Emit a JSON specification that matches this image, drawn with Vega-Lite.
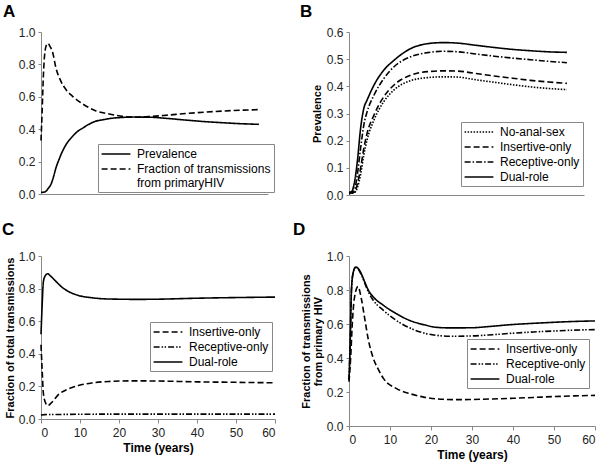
{
  "$schema": "https://vega.github.io/schema/vega-lite/v6.json",
  "background": "white",
  "padding": {"left": 2, "top": 3, "right": 2, "bottom": 3},
  "columns": 2,
  "align": "each",
  "spacing": {"column": 14, "row": 20},
  "resolve": {"scale": {"strokeDash": "independent"}, "legend": {"strokeDash": "independent"}},
  "datasets": {
    "A": [
      {"t": 0, "v": 0.01, "s": "Prevalence"}, {"t": 1, "v": 0.012, "s": "Prevalence"}, {"t": 1.5, "v": 0.02, "s": "Prevalence"}, {"t": 2, "v": 0.035, "s": "Prevalence"}, {"t": 2.75, "v": 0.06, "s": "Prevalence"}, {"t": 3.5, "v": 0.11, "s": "Prevalence"}, {"t": 4.1, "v": 0.16, "s": "Prevalence"}, {"t": 5, "v": 0.215, "s": "Prevalence"}, {"t": 5.5, "v": 0.243, "s": "Prevalence"}, {"t": 6.9, "v": 0.305, "s": "Prevalence"}, {"t": 8.7, "v": 0.356, "s": "Prevalence"}, {"t": 10, "v": 0.385, "s": "Prevalence"}, {"t": 11.5, "v": 0.407, "s": "Prevalence"}, {"t": 13, "v": 0.428, "s": "Prevalence"}, {"t": 15, "v": 0.449, "s": "Prevalence"}, {"t": 17, "v": 0.458, "s": "Prevalence"}, {"t": 19, "v": 0.466, "s": "Prevalence"}, {"t": 22, "v": 0.472, "s": "Prevalence"}, {"t": 26, "v": 0.475, "s": "Prevalence"}, {"t": 30, "v": 0.474, "s": "Prevalence"}, {"t": 35, "v": 0.466, "s": "Prevalence"}, {"t": 40, "v": 0.456, "s": "Prevalence"}, {"t": 45, "v": 0.447, "s": "Prevalence"}, {"t": 50, "v": 0.44, "s": "Prevalence"}, {"t": 55, "v": 0.434, "s": "Prevalence"}, {"t": 60, "v": 0.43, "s": "Prevalence"},
      {"t": 0, "v": 0.33, "s": "Fraction"}, {"t": 0.3, "v": 0.5, "s": "Fraction"}, {"t": 0.6, "v": 0.7, "s": "Fraction"}, {"t": 1, "v": 0.86, "s": "Fraction"}, {"t": 1.5, "v": 0.92, "s": "Fraction"}, {"t": 1.9, "v": 0.93, "s": "Fraction"}, {"t": 2.5, "v": 0.91, "s": "Fraction"}, {"t": 3.2, "v": 0.875, "s": "Fraction"}, {"t": 4.1, "v": 0.78, "s": "Fraction"}, {"t": 5.5, "v": 0.695, "s": "Fraction"}, {"t": 6.9, "v": 0.644, "s": "Fraction"}, {"t": 8.7, "v": 0.603, "s": "Fraction"}, {"t": 11.5, "v": 0.556, "s": "Fraction"}, {"t": 15, "v": 0.514, "s": "Fraction"}, {"t": 18.8, "v": 0.494, "s": "Fraction"}, {"t": 22.5, "v": 0.479, "s": "Fraction"}, {"t": 26, "v": 0.474, "s": "Fraction"}, {"t": 30, "v": 0.478, "s": "Fraction"}, {"t": 35, "v": 0.487, "s": "Fraction"}, {"t": 40, "v": 0.497, "s": "Fraction"}, {"t": 45, "v": 0.505, "s": "Fraction"}, {"t": 50, "v": 0.512, "s": "Fraction"}, {"t": 55, "v": 0.517, "s": "Fraction"}, {"t": 60, "v": 0.521, "s": "Fraction"}
    ],
    "B": [
      {"t": 0, "v": 0.01, "s": "Dual-role"}, {"t": 0.7, "v": 0.012, "s": "Dual-role"}, {"t": 1.4, "v": 0.04, "s": "Dual-role"}, {"t": 2.3, "v": 0.124, "s": "Dual-role"}, {"t": 3.2, "v": 0.246, "s": "Dual-role"}, {"t": 4.1, "v": 0.32, "s": "Dual-role"}, {"t": 5, "v": 0.35, "s": "Dual-role"}, {"t": 6.9, "v": 0.405, "s": "Dual-role"}, {"t": 9.6, "v": 0.46, "s": "Dual-role"}, {"t": 12.4, "v": 0.496, "s": "Dual-role"}, {"t": 17, "v": 0.539, "s": "Dual-role"}, {"t": 21.6, "v": 0.557, "s": "Dual-role"}, {"t": 26, "v": 0.561, "s": "Dual-role"}, {"t": 30, "v": 0.559, "s": "Dual-role"}, {"t": 35, "v": 0.551, "s": "Dual-role"}, {"t": 40, "v": 0.543, "s": "Dual-role"}, {"t": 45, "v": 0.536, "s": "Dual-role"}, {"t": 50, "v": 0.531, "s": "Dual-role"}, {"t": 55, "v": 0.527, "s": "Dual-role"}, {"t": 60, "v": 0.525, "s": "Dual-role"},
      {"t": 0, "v": 0.008, "s": "Receptive-only"}, {"t": 0.7, "v": 0.01, "s": "Receptive-only"}, {"t": 1.4, "v": 0.015, "s": "Receptive-only"}, {"t": 2.3, "v": 0.076, "s": "Receptive-only"}, {"t": 3.2, "v": 0.173, "s": "Receptive-only"}, {"t": 4.1, "v": 0.259, "s": "Receptive-only"}, {"t": 5, "v": 0.307, "s": "Receptive-only"}, {"t": 6.9, "v": 0.368, "s": "Receptive-only"}, {"t": 9.6, "v": 0.429, "s": "Receptive-only"}, {"t": 12.4, "v": 0.472, "s": "Receptive-only"}, {"t": 17, "v": 0.509, "s": "Receptive-only"}, {"t": 21.6, "v": 0.524, "s": "Receptive-only"}, {"t": 26, "v": 0.529, "s": "Receptive-only"}, {"t": 30, "v": 0.527, "s": "Receptive-only"}, {"t": 35, "v": 0.519, "s": "Receptive-only"}, {"t": 40, "v": 0.511, "s": "Receptive-only"}, {"t": 45, "v": 0.504, "s": "Receptive-only"}, {"t": 50, "v": 0.498, "s": "Receptive-only"}, {"t": 55, "v": 0.492, "s": "Receptive-only"}, {"t": 60, "v": 0.487, "s": "Receptive-only"},
      {"t": 0, "v": 0.006, "s": "Insertive-only"}, {"t": 1.4, "v": 0.01, "s": "Insertive-only"}, {"t": 2.3, "v": 0.04, "s": "Insertive-only"}, {"t": 3.2, "v": 0.1, "s": "Insertive-only"}, {"t": 4.1, "v": 0.173, "s": "Insertive-only"}, {"t": 5, "v": 0.228, "s": "Insertive-only"}, {"t": 6.9, "v": 0.295, "s": "Insertive-only"}, {"t": 9.6, "v": 0.362, "s": "Insertive-only"}, {"t": 12.4, "v": 0.405, "s": "Insertive-only"}, {"t": 17, "v": 0.441, "s": "Insertive-only"}, {"t": 21.6, "v": 0.454, "s": "Insertive-only"}, {"t": 26, "v": 0.457, "s": "Insertive-only"}, {"t": 30, "v": 0.456, "s": "Insertive-only"}, {"t": 35, "v": 0.447, "s": "Insertive-only"}, {"t": 40, "v": 0.438, "s": "Insertive-only"}, {"t": 45, "v": 0.43, "s": "Insertive-only"}, {"t": 50, "v": 0.422, "s": "Insertive-only"}, {"t": 55, "v": 0.416, "s": "Insertive-only"}, {"t": 60, "v": 0.411, "s": "Insertive-only"},
      {"t": 0, "v": 0.005, "s": "No-anal-sex"}, {"t": 1.4, "v": 0.008, "s": "No-anal-sex"}, {"t": 2.3, "v": 0.027, "s": "No-anal-sex"}, {"t": 3.2, "v": 0.076, "s": "No-anal-sex"}, {"t": 4.1, "v": 0.149, "s": "No-anal-sex"}, {"t": 5, "v": 0.204, "s": "No-anal-sex"}, {"t": 6.9, "v": 0.277, "s": "No-anal-sex"}, {"t": 9.6, "v": 0.344, "s": "No-anal-sex"}, {"t": 12.4, "v": 0.387, "s": "No-anal-sex"}, {"t": 17, "v": 0.421, "s": "No-anal-sex"}, {"t": 21.6, "v": 0.432, "s": "No-anal-sex"}, {"t": 26, "v": 0.435, "s": "No-anal-sex"}, {"t": 30, "v": 0.434, "s": "No-anal-sex"}, {"t": 35, "v": 0.424, "s": "No-anal-sex"}, {"t": 40, "v": 0.415, "s": "No-anal-sex"}, {"t": 45, "v": 0.406, "s": "No-anal-sex"}, {"t": 50, "v": 0.398, "s": "No-anal-sex"}, {"t": 55, "v": 0.392, "s": "No-anal-sex"}, {"t": 60, "v": 0.388, "s": "No-anal-sex"}
    ],
    "C": [
      {"t": 0, "v": 0.52, "s": "Dual-role"}, {"t": 0.3, "v": 0.7, "s": "Dual-role"}, {"t": 0.6, "v": 0.84, "s": "Dual-role"}, {"t": 1, "v": 0.875, "s": "Dual-role"}, {"t": 1.7, "v": 0.891, "s": "Dual-role"}, {"t": 2.5, "v": 0.876, "s": "Dual-role"}, {"t": 3.6, "v": 0.85, "s": "Dual-role"}, {"t": 5.3, "v": 0.81, "s": "Dual-role"}, {"t": 7, "v": 0.783, "s": "Dual-role"}, {"t": 9.6, "v": 0.758, "s": "Dual-role"}, {"t": 13, "v": 0.744, "s": "Dual-role"}, {"t": 15.6, "v": 0.738, "s": "Dual-role"}, {"t": 20, "v": 0.735, "s": "Dual-role"}, {"t": 25, "v": 0.734, "s": "Dual-role"}, {"t": 30, "v": 0.735, "s": "Dual-role"}, {"t": 40, "v": 0.741, "s": "Dual-role"}, {"t": 50, "v": 0.745, "s": "Dual-role"}, {"t": 60, "v": 0.748, "s": "Dual-role"},
      {"t": 0, "v": 0.455, "s": "Insertive-only"}, {"t": 0.3, "v": 0.3, "s": "Insertive-only"}, {"t": 0.6, "v": 0.16, "s": "Insertive-only"}, {"t": 1, "v": 0.11, "s": "Insertive-only"}, {"t": 1.7, "v": 0.082, "s": "Insertive-only"}, {"t": 2.7, "v": 0.1, "s": "Insertive-only"}, {"t": 4.4, "v": 0.148, "s": "Insertive-only"}, {"t": 7, "v": 0.184, "s": "Insertive-only"}, {"t": 9.6, "v": 0.205, "s": "Insertive-only"}, {"t": 13, "v": 0.221, "s": "Insertive-only"}, {"t": 17.3, "v": 0.23, "s": "Insertive-only"}, {"t": 24, "v": 0.234, "s": "Insertive-only"}, {"t": 30, "v": 0.233, "s": "Insertive-only"}, {"t": 40, "v": 0.228, "s": "Insertive-only"}, {"t": 50, "v": 0.225, "s": "Insertive-only"}, {"t": 60, "v": 0.222, "s": "Insertive-only"},
      {"t": 0, "v": 0.025, "s": "Receptive-only"}, {"t": 1, "v": 0.027, "s": "Receptive-only"}, {"t": 5, "v": 0.028, "s": "Receptive-only"}, {"t": 10, "v": 0.029, "s": "Receptive-only"}, {"t": 20, "v": 0.03, "s": "Receptive-only"}, {"t": 30, "v": 0.03, "s": "Receptive-only"}, {"t": 40, "v": 0.03, "s": "Receptive-only"}, {"t": 50, "v": 0.03, "s": "Receptive-only"}, {"t": 60, "v": 0.03, "s": "Receptive-only"}
    ],
    "D": [
      {"t": 0, "v": 0.27, "s": "Dual-role"}, {"t": 0.3, "v": 0.5, "s": "Dual-role"}, {"t": 0.6, "v": 0.8, "s": "Dual-role"}, {"t": 1, "v": 0.9, "s": "Dual-role"}, {"t": 1.6, "v": 0.935, "s": "Dual-role"}, {"t": 2.3, "v": 0.925, "s": "Dual-role"}, {"t": 3, "v": 0.896, "s": "Dual-role"}, {"t": 3.85, "v": 0.847, "s": "Dual-role"}, {"t": 4.7, "v": 0.8, "s": "Dual-role"}, {"t": 5.9, "v": 0.76, "s": "Dual-role"}, {"t": 8.4, "v": 0.71, "s": "Dual-role"}, {"t": 11.6, "v": 0.66, "s": "Dual-role"}, {"t": 14.9, "v": 0.62, "s": "Dual-role"}, {"t": 18.2, "v": 0.596, "s": "Dual-role"}, {"t": 21.5, "v": 0.58, "s": "Dual-role"}, {"t": 25, "v": 0.577, "s": "Dual-role"}, {"t": 30, "v": 0.578, "s": "Dual-role"}, {"t": 35, "v": 0.587, "s": "Dual-role"}, {"t": 40, "v": 0.597, "s": "Dual-role"}, {"t": 45, "v": 0.604, "s": "Dual-role"}, {"t": 50, "v": 0.61, "s": "Dual-role"}, {"t": 55, "v": 0.615, "s": "Dual-role"}, {"t": 60, "v": 0.618, "s": "Dual-role"},
      {"t": 0, "v": 0.27, "s": "Receptive-only"}, {"t": 0.3, "v": 0.5, "s": "Receptive-only"}, {"t": 0.6, "v": 0.8, "s": "Receptive-only"}, {"t": 1, "v": 0.9, "s": "Receptive-only"}, {"t": 1.6, "v": 0.93, "s": "Receptive-only"}, {"t": 2.3, "v": 0.92, "s": "Receptive-only"}, {"t": 3, "v": 0.89, "s": "Receptive-only"}, {"t": 3.85, "v": 0.84, "s": "Receptive-only"}, {"t": 4.7, "v": 0.79, "s": "Receptive-only"}, {"t": 5.9, "v": 0.74, "s": "Receptive-only"}, {"t": 8.4, "v": 0.68, "s": "Receptive-only"}, {"t": 11.6, "v": 0.62, "s": "Receptive-only"}, {"t": 14.9, "v": 0.576, "s": "Receptive-only"}, {"t": 18.2, "v": 0.547, "s": "Receptive-only"}, {"t": 21.5, "v": 0.533, "s": "Receptive-only"}, {"t": 25, "v": 0.528, "s": "Receptive-only"}, {"t": 30, "v": 0.53, "s": "Receptive-only"}, {"t": 35, "v": 0.537, "s": "Receptive-only"}, {"t": 40, "v": 0.546, "s": "Receptive-only"}, {"t": 45, "v": 0.553, "s": "Receptive-only"}, {"t": 50, "v": 0.559, "s": "Receptive-only"}, {"t": 55, "v": 0.564, "s": "Receptive-only"}, {"t": 60, "v": 0.567, "s": "Receptive-only"},
      {"t": 0, "v": 0.26, "s": "Insertive-only"}, {"t": 0.4, "v": 0.4, "s": "Insertive-only"}, {"t": 0.8, "v": 0.6, "s": "Insertive-only"}, {"t": 1.3, "v": 0.75, "s": "Insertive-only"}, {"t": 2.2, "v": 0.82, "s": "Insertive-only"}, {"t": 3, "v": 0.75, "s": "Insertive-only"}, {"t": 3.85, "v": 0.63, "s": "Insertive-only"}, {"t": 4.7, "v": 0.51, "s": "Insertive-only"}, {"t": 5.9, "v": 0.4, "s": "Insertive-only"}, {"t": 7, "v": 0.34, "s": "Insertive-only"}, {"t": 8.4, "v": 0.28, "s": "Insertive-only"}, {"t": 11.6, "v": 0.22, "s": "Insertive-only"}, {"t": 14.9, "v": 0.19, "s": "Insertive-only"}, {"t": 18.2, "v": 0.17, "s": "Insertive-only"}, {"t": 23, "v": 0.157, "s": "Insertive-only"}, {"t": 27, "v": 0.155, "s": "Insertive-only"}, {"t": 30, "v": 0.156, "s": "Insertive-only"}, {"t": 35, "v": 0.159, "s": "Insertive-only"}, {"t": 40, "v": 0.163, "s": "Insertive-only"}, {"t": 45, "v": 0.168, "s": "Insertive-only"}, {"t": 50, "v": 0.173, "s": "Insertive-only"}, {"t": 55, "v": 0.177, "s": "Insertive-only"}, {"t": 60, "v": 0.18, "s": "Insertive-only"}
    ]
  },
  "concat": [
    {
      "title": {"text": "A", "anchor": "start", "frame": "group", "dx": -38, "offset": -8, "baseline": "alphabetic", "fontSize": 17, "fontWeight": "bold", "color": "#000"},
      "width": 227, "height": 162,
      "data": {"name": "A"},
      "mark": {"type": "line", "interpolate": "monotone", "strokeWidth": 1.6, "color": "#000"},
      "encoding": {
        "x": {"field": "t", "type": "quantitative", "scale": {"domain": [0, 62.5], "nice": false}, "axis": {"labels": false, "ticks": false, "title": null}},
        "y": {"field": "v", "type": "quantitative", "scale": {"domain": [0, 1]}, "axis": {"values": [0, 0.2, 0.4, 0.6, 0.8, 1.0], "format": ".1f", "title": null}},
        "strokeDash": {"field": "s", "type": "nominal",
          "scale": {"domain": ["Prevalence", "Fraction"], "range": [[1, 0], [6, 3]]},
          "legend": {"title": null, "orient": "none", "legendX": 57, "legendY": 112, "labelExpr": "datum.label == 'Fraction' ? ['Fraction of transmissions', 'from primaryHIV'] : datum.label"}}
      }
    },
    {
      "title": {"text": "B", "anchor": "start", "frame": "group", "dx": -49, "offset": -8, "baseline": "alphabetic", "fontSize": 17, "fontWeight": "bold", "color": "#000"},
      "width": 235, "height": 163,
      "data": {"name": "B"},
      "mark": {"type": "line", "interpolate": "monotone", "strokeWidth": 1.6, "color": "#000"},
      "encoding": {
        "x": {"field": "t", "type": "quantitative", "scale": {"domain": [0, 64.7], "nice": false}, "axis": {"labels": false, "ticks": false, "title": null}},
        "y": {"field": "v", "type": "quantitative", "scale": {"domain": [0, 0.6]}, "axis": {"values": [0, 0.1, 0.2, 0.3, 0.4, 0.5, 0.6], "format": ".1f", "title": "Prevalence", "titlePadding": 4}},
        "strokeDash": {"field": "s", "type": "nominal",
          "scale": {"domain": ["No-anal-sex", "Insertive-only", "Receptive-only", "Dual-role"], "range": [[1.5, 1.5], [6, 3], [6, 2, 1.5, 2], [1, 0]]},
          "legend": {"title": null, "orient": "none", "legendX": 112, "legendY": 90}}
      }
    },
    {
      "title": {"text": "C", "anchor": "start", "frame": "group", "dx": -39, "offset": -2, "baseline": "alphabetic", "fontSize": 17, "fontWeight": "bold", "color": "#000"},
      "width": 234, "height": 163,
      "data": {"name": "C"},
      "mark": {"type": "line", "interpolate": "monotone", "strokeWidth": 1.6, "color": "#000"},
      "encoding": {
        "x": {"field": "t", "type": "quantitative", "scale": {"domain": [0, 60], "nice": false}, "axis": {"values": [0, 10, 20, 30, 40, 50, 60], "title": "Time (years)", "titleFontSize": 12, "tickSize": 4, "labelPadding": 4, "titlePadding": 4}},
        "y": {"field": "v", "type": "quantitative", "scale": {"domain": [0, 1]}, "axis": {"values": [0, 0.2, 0.4, 0.6, 0.8, 1.0], "format": ".1f", "title": "Fraction of total transmissions", "titlePadding": 3}},
        "strokeDash": {"field": "s", "type": "nominal",
          "scale": {"domain": ["Insertive-only", "Receptive-only", "Dual-role"], "range": [[6, 3], [6, 2, 1.5, 1.5, 1.5, 2], [1, 0]]},
          "legend": {"title": null, "orient": "none", "legendX": 109, "legendY": 66}}
      }
    },
    {
      "title": {"text": "D", "anchor": "start", "frame": "group", "dx": -56, "offset": -2, "baseline": "alphabetic", "fontSize": 17, "fontWeight": "bold", "color": "#000"},
      "width": 246, "height": 170,
      "data": {"name": "D"},
      "mark": {"type": "line", "interpolate": "monotone", "strokeWidth": 1.6, "color": "#000"},
      "encoding": {
        "x": {"field": "t", "type": "quantitative", "scale": {"domain": [0, 60], "nice": false}, "axis": {"values": [0, 10, 20, 30, 40, 50, 60], "title": "Time (years)", "titleFontSize": 12, "tickSize": 4, "labelPadding": 4, "titlePadding": 4}},
        "y": {"field": "v", "type": "quantitative", "scale": {"domain": [0, 1]}, "axis": {"values": [0, 0.2, 0.4, 0.6, 0.8, 1.0], "format": ".1f", "title": ["Fraction of transmissions", "from primary HIV"], "titleLineHeight": 12, "titlePadding": 3}},
        "strokeDash": {"field": "s", "type": "nominal",
          "scale": {"domain": ["Insertive-only", "Receptive-only", "Dual-role"], "range": [[6, 3], [6, 2, 1.5, 1.5, 1.5, 2], [1, 0]]},
          "legend": {"title": null, "orient": "none", "legendX": 118, "legendY": 83}}
      }
    }
  ],
  "config": {
    "font": "Liberation Sans",
    "view": {"stroke": null},
    "axis": {"grid": false, "domainColor": "#888", "tickColor": "#888", "labelColor": "#222", "labelFontSize": 12, "titleFontSize": 11, "titleFontWeight": "bold", "titleColor": "#000", "tickSize": 3, "labelPadding": 3},
    "legend": {"labelFontSize": 12, "labelColor": "#000", "strokeColor": "#888", "fillColor": "#fff", "padding": 3, "symbolType": "M-2.4,0H2.4", "symbolSize": 144, "symbolOffset": 8, "symbolStrokeWidth": 1.5, "symbolStrokeColor": "#000", "labelOffset": 14, "rowPadding": 2, "labelLimit": 300}
  }
}
